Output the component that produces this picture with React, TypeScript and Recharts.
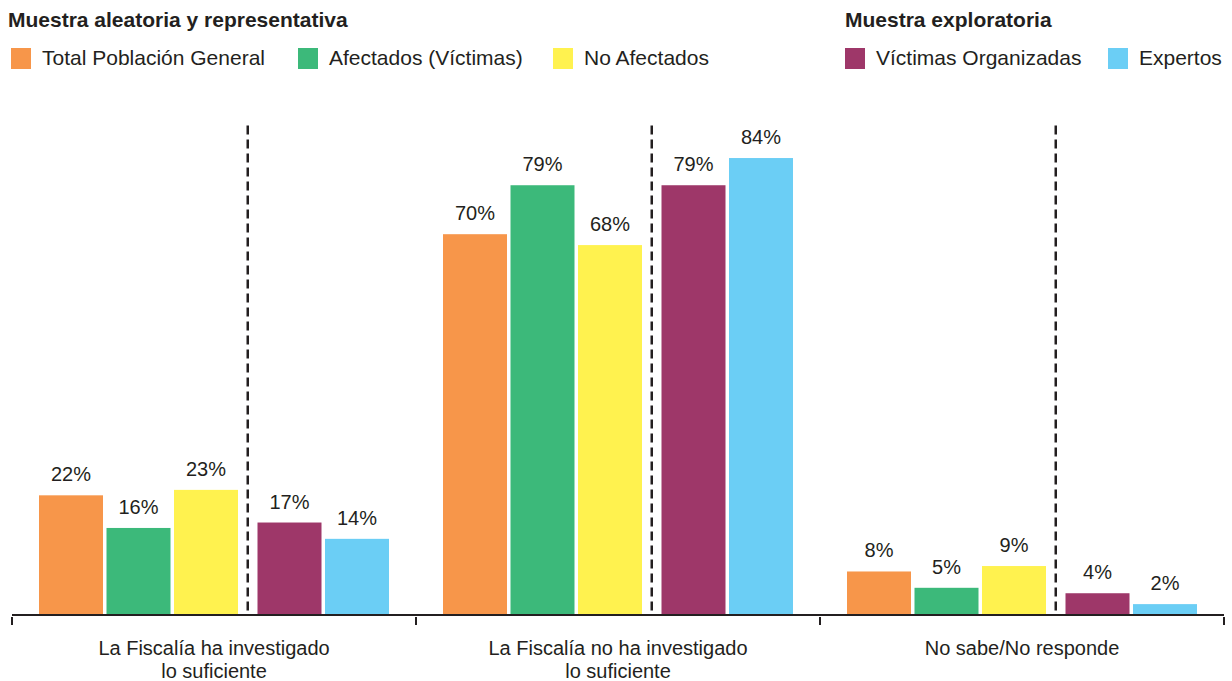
import { BarChart, Bar, XAxis, YAxis, LabelList } from "recharts";

const categories = [
  ["La Fiscalía ha investigado", "lo suficiente"],
  ["La Fiscalía no ha investigado", "lo suficiente"],
  ["No sabe/No responde"],
];
const totalPoblacion = [22, 70, 8];
const afectados = [16, 79, 5];
const noAfectados = [23, 68, 9];
const victimasOrg = [17, 79, 4];
const expertos = [14, 84, 2];

const INK = "#231f20";
const FONT = "'Liberation Sans', Arial, sans-serif";

const series = [
  { key: "total", name: "Total Población General", color: "#f7964a", dx: -8 },
  { key: "afectados", name: "Afectados (Víctimas)", color: "#3cb97a", dx: -8 },
  { key: "noAfectados", name: "No Afectados", color: "#fff24f", dx: -8 },
  { key: "victimas", name: "Víctimas Organizadas", color: "#9e3769", dx: 8 },
  { key: "expertos", name: "Expertos", color: "#6bcef5", dx: 8 },
];

const data = categories.map((lines, i) => ({
  name: lines.join(" "),
  lines,
  total: totalPoblacion[i],
  afectados: afectados[i],
  noAfectados: noAfectados[i],
  victimas: victimasOrg[i],
  expertos: expertos[i],
}));

const W = 1232;
const H = 681;
// bottom margin + 30px x-axis band puts the baseline at y=615
const margin = { top: 71, right: 8, left: 12, bottom: 36 };
const BAND = (W - margin.left - margin.right) / categories.length;

// bars of the two samples are pushed apart, divider drawn in the gap
const shiftedBar = (dx: number, divider: boolean) => (p: any) => {
  const baseline = p.y + p.height;
  let top = baseline - 90 * (p.height / (p.value?.[1] ?? p.value ?? 1));
  if (p.background && p.background.height) {
    top = p.background.y + p.background.height * 0.1;
  }
  const lx = p.x + 65.75;
  return (
    <g>
      <rect x={p.x + dx} y={p.y} width={p.width} height={p.height} fill={p.fill} />
      {divider && (
        <line x1={lx} x2={lx} y1={top} y2={baseline} stroke={INK} strokeWidth={2.5} strokeDasharray="9 5" />
      )}
    </g>
  );
};

const valueLabel = (dx: number) => (p: any) => (
  <text
    x={p.x + dx + p.width / 2}
    y={p.y - 14}
    textAnchor="middle"
    fontSize={20}
    fontFamily={FONT}
    fill={INK}
  >
    {p.value}%
  </text>
);

const CategoryTick = (p: any) => {
  const { x, y, index } = p;
  const lines = data[index]?.lines ?? [];
  return (
    <g>
      <line x1={x - BAND / 2} x2={x - BAND / 2} y1={y} y2={y + 8} stroke={INK} strokeWidth={2} />
      {index === data.length - 1 && (
        <line x1={x + BAND / 2} x2={x + BAND / 2} y1={y} y2={y + 8} stroke={INK} strokeWidth={2} />
      )}
      {lines.map((l: string, i: number) => (
        <text key={i} x={x} y={y + 38 + i * 23} textAnchor="middle" fontSize={20} fontFamily={FONT} fill={INK}>
          {l}
        </text>
      ))}
    </g>
  );
};

const legendTitle = { position: "absolute" as const, top: 8, fontSize: 21, fontWeight: 700, color: INK, fontFamily: FONT };
const legendItems = [
  { s: series[0], sq: 11 },
  { s: series[1], sq: 298 },
  { s: series[2], sq: 553 },
  { s: series[3], sq: 845 },
  { s: series[4], sq: 1108 },
];

export default function App() {
  return (
    <div style={{ position: "absolute", left: 0, top: 0, width: W, height: H, background: "#fff", fontFamily: FONT }}>
      <div style={{ ...legendTitle, left: 8 }}>Muestra aleatoria y representativa</div>
      <div style={{ ...legendTitle, left: 845 }}>Muestra exploratoria</div>
      {legendItems.map(({ s, sq }) => (
        <div key={s.key} style={{ position: "absolute", left: sq, top: 47, display: "flex", alignItems: "center" }}>
          <span style={{ width: 20, height: 21, background: s.color, display: "inline-block" }} />
          <span style={{ marginLeft: 11, fontSize: 21, color: INK, lineHeight: "22px" }}>{s.name}</span>
        </div>
      ))}
      <BarChart width={W} height={H} data={data} margin={margin} barSize={64} barGap={3.5}>
        <YAxis hide domain={[0, 100]} />
        <XAxis
          dataKey="name"
          interval={0}
          tickSize={0}
          tickLine={false}
          axisLine={{ stroke: INK, strokeWidth: 2 }}
          tick={<CategoryTick />}
        />
        {series.map((s, i) => (
          <Bar
            key={s.key}
            dataKey={s.key}
            name={s.name}
            fill={s.color}
            isAnimationActive={false}
            shape={shiftedBar(s.dx, i === 2)}
          >
            <LabelList dataKey={s.key} content={valueLabel(s.dx)} />
          </Bar>
        ))}
      </BarChart>
    </div>
  );
}
